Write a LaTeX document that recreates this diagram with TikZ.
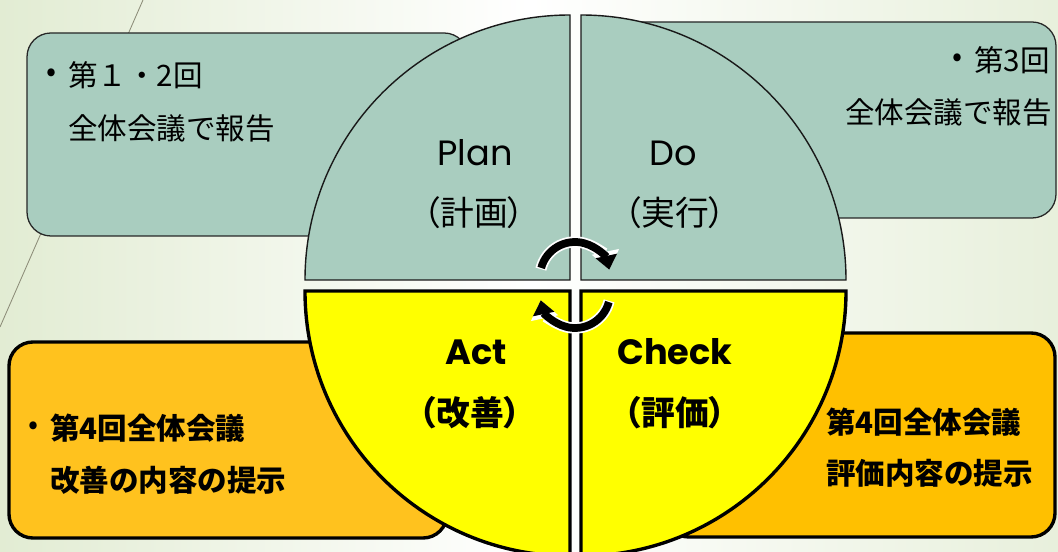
\documentclass[tikz,border=0pt]{standalone}
\usepackage{fontspec}
\setmainfont{Noto Sans CJK JP}
\newfontfamily\latfont{Poppins}
\newfontfamily\jplabel[RawFeature=+palt]{Noto Sans CJK JP}
\usetikzlibrary{positioning,arrows.meta}

\definecolor{sage}{RGB}{169,205,191}
\definecolor{amberL}{RGB}{255,194,30}
\definecolor{amberR}{RGB}{255,192,0}
\definecolor{mint}{RGB}{226,236,211}
\definecolor{lemon}{RGB}{255,255,0}
\definecolor{twig}{RGB}{140,140,120}

\begin{document}
\begin{tikzpicture}[x=0.025cm, y=0.025cm,
    notebox/.style={rounded corners=17pt, draw=black!85, line width=0.9pt, fill=sage},
    warmbox/.style={rounded corners=17pt, draw=black, line width=2.4pt},
    topquad/.style={draw=black!90, line width=1pt, fill=sage},
    lowquad/.style={draw=black, line width=2.4pt, fill=lemon},
    boxtext/.style={inner sep=0pt, font=\fontsize{21}{25}\selectfont},
    boldtext/.style={inner sep=0pt, font=\fontsize{21}{25}\selectfont\bfseries},
    phase/.style={inner sep=0pt, font=\latfont\fontsize{25}{30}\selectfont},
    phasejp/.style={inner sep=0pt, font=\jplabel\fontsize{24}{28}\selectfont},
    arrowhalo/.style={draw=white, line width=8pt, -{Triangle[length=13pt, width=19pt]}},
    cyclearrow/.style={draw=black, line width=5.5pt, -{Triangle[length=10pt, width=15pt]}}
    ]
        \useasboundingbox (0,0) rectangle (1058,552);
        \clip (0,0) rectangle (1058,552);
        \shade[left color=mint, right color=mint!80!white, middle color=white]
            (0,0) rectangle (1058,552);
        \draw[twig, line width=0.6pt] (0,225) -- (143,552);

        %Boxes
        \draw[notebox] (27,316) rectangle (468,519);
        \draw[notebox] (605,334) rectangle (1056,530);
        \draw[warmbox, fill=amberL] (9,14) rectangle (447,210);
        \draw[warmbox, fill=amberR] (665,15) rectangle (1055,219);

        %Quadrants
        \draw[topquad] (570,272) -- (305,272) arc[start angle=180, end angle=90, radius=265] -- cycle;
        \draw[topquad] (581,272) -- (581,537) arc[start angle=90, end angle=0, radius=265] -- cycle;
        \draw[lowquad] (570,261) -- (305,261) arc[start angle=180, end angle=270, radius=265] -- cycle;
        \draw[lowquad] (581,261) -- (581,-4) arc[start angle=270, end angle=360, radius=265] -- cycle;

        %Cycle arrows
        \draw[arrowhalo] (575,275) ++(167:35) arc[start angle=167, end angle=12, radius=35];
        \draw[cyclearrow] (575,275) ++(165:35) arc[start angle=165, end angle=12, radius=35];
        \draw[arrowhalo] (575,259) ++(-13:35) arc[start angle=-13, end angle=-168, radius=35];
        \draw[cyclearrow] (575,259) ++(-15:35) arc[start angle=-15, end angle=-168, radius=35];

        %Phase labels
        \node[phase]   (plan)  at (475,399) {Plan};
        \node[phasejp] (planj) at (474,339) {（計画）};
        \node[phase]   (do)    at (673,399) {Do};
        \node[phasejp] (doj)   at (675,339) {（実行）};
        \node[phase, font=\latfont\bfseries\fontsize{25}{30}\selectfont]
            (act)    at (476,200) {Act};
        \node[phasejp, font=\jplabel\bfseries\fontsize{24}{28}\selectfont]
            (actj)   at (470,139) {（改善）};
        \node[phase, font=\latfont\bfseries\fontsize{25}{30}\selectfont]
            (check)  at (675,200) {Check};
        \node[phasejp, font=\jplabel\bfseries\fontsize{24}{28}\selectfont]
            (checkj) at (675,139) {（評価）};

        %Notes
        \node[boxtext, anchor=west] (planA) at (68,477) {第１・2回};
        \node[boxtext, anchor=east] at ([xshift=-8pt]planA.west) {•};
        \node[boxtext, anchor=west] (planB) at (68,424) {全体会議で報告};

        \node[boxtext, anchor=east] (doA) at (1050,492) {第3回};
        \node[boxtext, anchor=east] at ([xshift=-8pt]doA.west) {•};
        \node[boxtext, anchor=east] (doB) at (1052,440) {全体会議で報告};

        \node[boldtext, anchor=west] (actA) at (50,124) {第4回全体会議};
        \node[boxtext, anchor=east] at ([xshift=-8pt]actA.west) {•};
        \node[boldtext, anchor=west] (actB) at (50,72) {改善の内容の提示};

        \node[boldtext, anchor=west] (checkA) at (826,130) {第4回全体会議};
        \node[boldtext, anchor=west] (checkB) at (826,79) {評価内容の提示};
\end{tikzpicture}
\end{document}
